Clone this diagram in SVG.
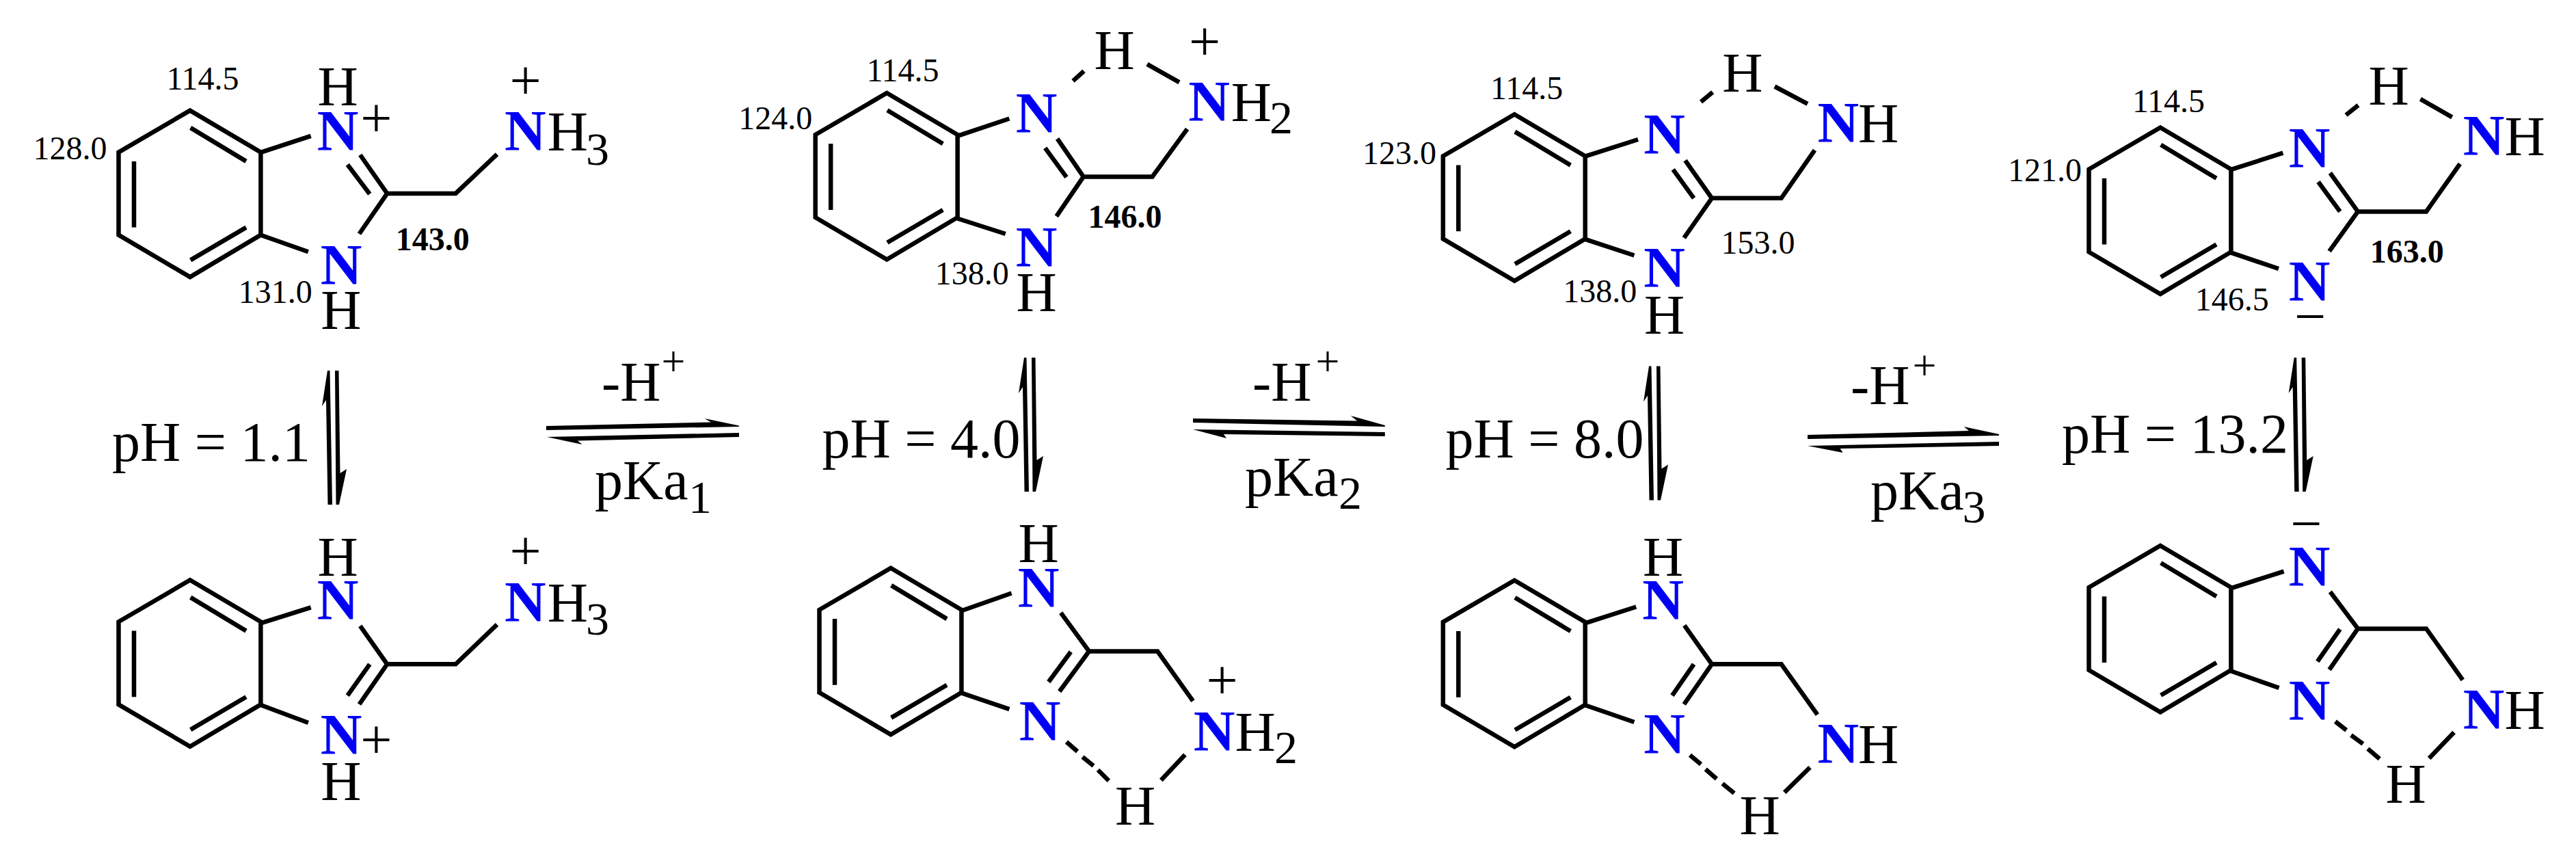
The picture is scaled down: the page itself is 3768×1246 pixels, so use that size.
<svg xmlns="http://www.w3.org/2000/svg" width="3768" height="1246" viewBox="0 0 3768 1246">
<style>
text{font-family:"Liberation Serif","Times New Roman",serif;fill:#000;font-size:82px;text-anchor:middle}
.n{fill:#0000f5;font-weight:bold;font-size:84px}
.l{font-size:48px}
.b{font-size:48px;font-weight:bold}
.s{font-size:68px}
.u{font-size:62px}
.st{text-anchor:start}
.bond{fill:none;stroke:#000;stroke-width:6.5;stroke-linejoin:miter}
.arr{fill:#000;stroke:none}
</style>
<defs>
<g id="benzene"><path class="bond" d="M0 0L103.4 61V182L0 243.5L-104.5 182V61ZM.7 25.3L82 74.3M-82 74.3V171M.7 218.8L82 171"/></g>
<g id="veq"><polygon class="arr" points="479,542 471,594 477,585 479.5,738 486,738 482.5,542"/><polygon class="arr" points="490,542 495.5,542 497.5,692 507,686 496,738 491.5,738"/></g>
</defs>
<rect width="3768" height="1246" fill="#fff"/>

<g id="mol1-top">
<use href="#benzene" x="278" y="161.6"/>
<path class="bond" d="M381.4 222.9L454.7 198.8M381.4 343.7L450.9 368.2M526.8 226.5L566.3 282.9L525.5 342M540.8 283.7L508.3 240.8M566.3 282.9H666.5L727 225.7"/>
<text x="494" y="154.3">H</text><text class="n" x="494" y="219.6">N</text><text x="550.4" y="200">+</text>
<text class="n" x="499" y="415.5">N</text><text x="498.8" y="480.8">H</text>
<text x="768.5" y="145">+</text><text class="n" x="768.4" y="220.4">N</text><text x="830.4" y="220.4">H</text><text class="s" x="874" y="241">3</text>
<text class="l" x="296.5" y="130.6">114.5</text><text class="l" x="102.4" y="232.6">128.0</text><text class="l" x="402.7" y="442.9">131.0</text><text class="b" x="632.7" y="366">143.0</text>
</g>

<g id="mol1-bottom">
<use href="#benzene" x="278" y="848.3"/>
<path class="bond" d="M381.4 911.4L454.7 888.3M381.4 1031L450.9 1057M526.8 915.4L566.3 971.3L525.5 1030M540.8 971.3L508.3 1017.2M566.3 971.3H666.5L727 913.4"/>
<text x="494" y="842.4">H</text><text class="n" x="494" y="906.2">N</text>
<text class="n" x="499" y="1103">N</text><text x="550.4" y="1109">+</text><text x="498.8" y="1169.7">H</text>
<text x="768.5" y="832.8">+</text><text class="n" x="768.4" y="909.4">N</text><text x="830.4" y="909.4">H</text><text class="s" x="874" y="928">3</text>
</g>

<g id="mol2-top">
<use href="#benzene" x="1297.2" y="136"/>
<path class="bond" d="M1400.5 198.8L1476.4 173.5M1400.5 319.5L1470.7 342M1546.6 202.9L1584.8 258.4L1545.3 316.3M1560 259.2L1528.7 216.3M1584.8 258.4H1685.6L1736.6 188.6M1585.5 104L1569.5 118.4M1678 93.9L1725 120.4"/>
<text class="n" x="1516" y="193.9">N</text><text class="n" x="1516" y="389.8">N</text><text x="1516" y="455">H</text>
<text x="1630" y="101.2">H</text><text x="1762" y="88">+</text>
<text class="n" x="1768.5" y="176.7">N</text><text x="1830.4" y="176.7">H</text><text class="s" x="1874" y="195">2</text>
<text class="l" x="1320.5" y="119.2">114.5</text><text class="l" x="1134.3" y="189">124.0</text><text class="l" x="1421.8" y="416.3">138.0</text><text class="b" x="1645.4" y="332.7">146.0</text>
</g>

<g id="mol2-bottom">
<use href="#benzene" x="1303" y="830.8"/>
<path class="bond" d="M1405.6 893.5L1479.6 867.5M1405.6 1013.2L1476.4 1037.2M1551.7 896.2L1593 952.5L1549.7 1011.2M1566.3 953.3L1533.8 997.2M1593 952.5H1693.2L1745 1025.2M1560 1085L1576 1099M1583.5 1107L1599.5 1120M1606 1126L1621.8 1141.8M1698.3 1141L1733.4 1103.8"/>
<text x="1519" y="821.6">H</text><text class="n" x="1519" y="887.5">N</text><text class="n" x="1521" y="1083">N</text>
<text x="1787.5" y="1022.4">+</text><text class="n" x="1776" y="1097.8">N</text><text x="1836.1" y="1097.8">H</text><text class="s" x="1881" y="1116.2">2</text>
<text x="1660.7" y="1206">H</text>
</g>

<g id="mol3-top">
<use href="#benzene" x="2215.3" y="167.3"/>
<path class="bond" d="M2318.6 228.6L2396 204M2318.6 349.8L2390.4 373.5M2465 234.7L2504 289.8L2463.3 347.8M2477.6 289.8L2447.2 247.8M2504 289.8H2605.6L2654.4 219.6M2505.2 134.7L2488 149M2595.9 126.5L2644 151.8"/>
<text class="n" x="2434.7" y="224.5">N</text><text class="n" x="2434.7" y="420.4">N</text><text x="2434.7" y="487.8">H</text>
<text x="2548.8" y="133.5">H</text><text class="n" x="2688.8" y="208">N</text><text x="2747.5" y="208">H</text>
<text class="l" x="2233.1" y="144.9">114.5</text><text class="l" x="2047" y="240">123.0</text><text class="l" x="2340.2" y="442">138.0</text><text class="l" x="2571.5" y="371.4">153.0</text>
</g>

<g id="mol3-bottom">
<use href="#benzene" x="2215.3" y="848.7"/>
<path class="bond" d="M2318.6 911.4L2393.2 887.5M2318.6 1031.2L2390.4 1056M2463.8 914.6L2504 971.3L2463.3 1030M2477.6 971.3L2446 1017.2M2504 971.3H2605.6L2658.4 1045.1M2471.9 1104.2L2488 1117.8M2494.8 1125L2510.9 1139M2519.5 1146.1L2536.7 1160.1M2610.2 1158.9L2647.5 1122.2"/>
<text x="2432.5" y="842.4">H</text><text class="n" x="2432.5" y="906.2">N</text><text class="n" x="2434.7" y="1102.2">N</text>
<text class="n" x="2688.8" y="1116.2">N</text><text x="2747.5" y="1116.2">H</text><text x="2574" y="1220">H</text>
</g>

<g id="mol4-top">
<use href="#benzene" x="3160" y="186.5"/>
<path class="bond" d="M3263 248.2L3339.4 223.7M3263 369.4L3333 393M3408.4 253L3448.9 309.4L3407.2 367.3M3422.8 309.4L3391 266M3448.9 309.4H3549L3598.3 239.6M3449.5 153.9L3431.5 168.2M3540.4 144.9L3586.7 171.4"/>
<text class="n" x="3378.2" y="244.9">N</text><text class="n" x="3378.2" y="440">N</text><text x="3379" y="489.5">−</text>
<text x="3494" y="153">H</text><text class="n" x="3633" y="226.5">N</text><text x="3693.2" y="226.5">H</text>
<text class="l" x="3172" y="164">114.5</text><text class="l" x="2991" y="265.3">121.0</text><text class="l" x="3264.7" y="453.9">146.5</text><text class="b" x="3520.7" y="383.7">163.0</text>
</g>

<g id="mol4-bottom">
<use href="#benzene" x="3160" y="798"/>
<path class="bond" d="M3263 860.3L3340.6 835.6M3263 981.3L3333.6 1006M3408.4 865.5L3448.9 919.4L3407.2 979.3M3422.8 920.2L3389.8 967.3M3448.9 919.4H3549L3602.3 994.4M3415.9 1055.1L3432.1 1067.9M3439 1075.1L3456.4 1087.9M3463.4 1095L3480.7 1109.8M3553.1 1109L3589.6 1071.1"/>
<text x="3373.3" y="793">−</text><text class="n" x="3378.2" y="856.7">N</text><text class="n" x="3378.2" y="1053.1">N</text>
<text class="n" x="3633" y="1066.3">N</text><text x="3693.2" y="1066.3">H</text><text x="3519" y="1174.1">H</text>
</g>

<g id="connectors">
<use href="#veq"/>
<use href="#veq" x="1019" y="-19"/>
<use href="#veq" x="1933" y="-6.5"/>
<use href="#veq" x="2876.7" y="-19"/>
<polygon class="arr" points="799,623 1040,617.5 1030.6,612 1081,622.5 1081,624 799,629"/>
<polygon class="arr" points="1081,633 1081,639 845,644.5 851.4,650 800,639"/>
<polygon class="arr" points="1745,612 1985,615.5 1975.8,608 2025.8,622 2025.8,624 1745,618"/>
<polygon class="arr" points="1745,628 2025.8,632 2025.8,638 1790,635 1794,641"/>
<polygon class="arr" points="2644,636 2880,630 2872.7,624 2924,635 2924,637 2644,642"/>
<polygon class="arr" points="2644,652 2924,646 2924,652 2691.7,656 2695.7,662"/>
</g>

<g id="label-ph1"><text class="st" x="164" y="674">pH = 1.1</text></g>
<g id="label-ph2"><text class="st" x="1202.5" y="668.7">pH = 4.0</text></g>
<g id="label-ph3"><text class="st" x="2114.5" y="668.7">pH = 8.0</text></g>
<g id="label-ph4"><text class="st" x="3016" y="662">pH = 13.2</text></g>

<g id="label-step1"><text class="st" x="880" y="585.7">-H</text><text class="u" x="985" y="549">+</text><text class="st" x="870" y="729.8">pKa</text><text class="s" x="1024" y="750">1</text></g>
<g id="label-step2"><text class="st" x="1832" y="585.7">-H</text><text class="u" x="1942" y="549">+</text><text class="st" x="1821" y="724.6">pKa</text><text class="s" x="1975" y="744">2</text></g>
<g id="label-step3"><text class="st" x="2707" y="591">-H</text><text class="u" x="2815" y="555">+</text><text class="st" x="2736" y="744.5">pKa</text><text class="s" x="2887.5" y="763.5">3</text></g>
</svg>
